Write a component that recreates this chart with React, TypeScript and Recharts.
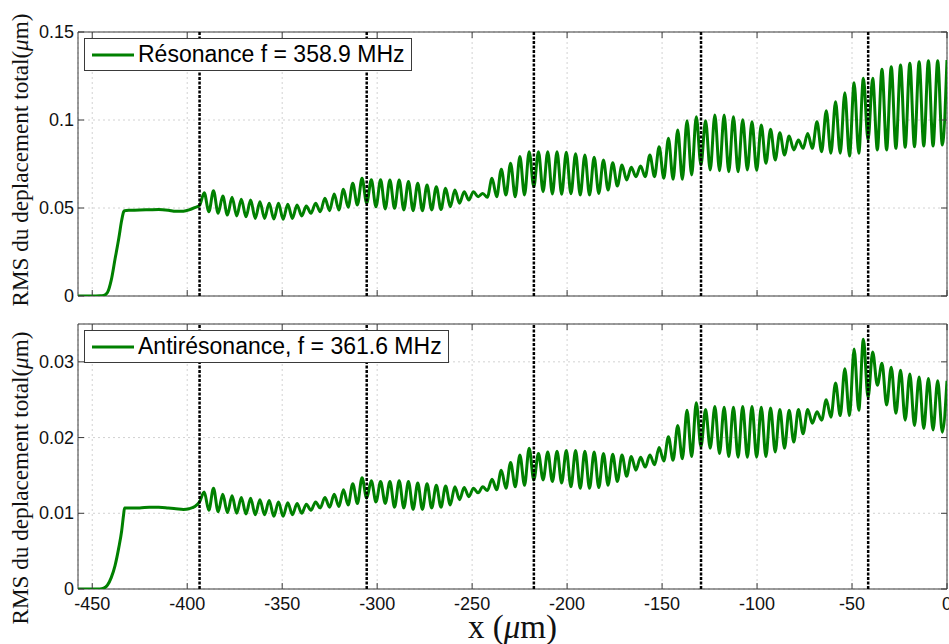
import React from "react";
import {
  LineChart,
  Line,
  XAxis,
  YAxis,
  CartesianGrid,
  ReferenceLine,
  ReferenceArea,
  Legend,
} from "recharts";

const GREEN = "#008000";
const AXIS = "#3a3a3a";
const SERIF = '"Liberation Serif", "Times New Roman", serif';
const SANS = '"Liberation Sans", Arial, Helvetica, sans-serif';

// start of the curve, before the first interface
const rampX = [
  -457.5, -450, -446, -444, -442, -440, -438, -436, -434.5, -433.5, -433, -430,
  -425, -420, -415, -410, -406, -402, -399, -396,
];
const rampTop = [
  0, 0, 0.0001, 0.0003, 0.002, 0.009, 0.021, 0.033, 0.043, 0.0478, 0.0485,
  0.0487, 0.0489, 0.049, 0.0491, 0.0487, 0.0481, 0.0482, 0.0489, 0.0502,
];
const rampBottom = [
  0, 0, 0, 0.0001, 0.0005, 0.0015, 0.0031, 0.0055, 0.0077, 0.0098, 0.0107,
  0.0107, 0.0107, 0.0108, 0.0108, 0.0107, 0.0106, 0.0105, 0.0106, 0.0109,
];

// oscillating part: one value per half period (peaks / troughs), from the first interface
const waveStartX = -393.5;
const waveHalfPeriod = 2.444;

const waveTop = [
  0.0515, 0.0587, 0.0479, 0.0598, 0.047, 0.0568, 0.046, 0.0561, 0.0455, 0.055,
  0.045, 0.0545, 0.0441, 0.0536, 0.0441, 0.0527, 0.0437, 0.0527, 0.0436, 0.0521,
  0.0441, 0.0517, 0.0455, 0.0511, 0.047, 0.0527, 0.0479, 0.0555, 0.0485, 0.058,
  0.0489, 0.0606, 0.0504, 0.064, 0.0517, 0.0669, 0.0527, 0.066, 0.0507, 0.066,
  0.0495, 0.0659, 0.0498, 0.0659, 0.0489, 0.065, 0.0485, 0.064, 0.0485, 0.063,
  0.0489, 0.0621, 0.0492, 0.0612, 0.0507, 0.0602, 0.0527, 0.0593, 0.0545, 0.0593,
  0.0564, 0.0583, 0.0561, 0.0669, 0.0564, 0.072, 0.0574, 0.0754, 0.0564, 0.0792,
  0.0574, 0.082, 0.0621, 0.082, 0.0593, 0.082, 0.058, 0.082, 0.0578, 0.0817,
  0.0581, 0.0808, 0.0574, 0.0801, 0.0574, 0.0788, 0.0583, 0.0773, 0.0602, 0.0757,
  0.0625, 0.0744, 0.0659, 0.0731, 0.0678, 0.0739, 0.0678, 0.0801, 0.0678, 0.0848,
  0.0669, 0.0896, 0.0663, 0.0943, 0.0663, 0.0996, 0.0688, 0.1019, 0.0744, 0.0996,
  0.0716, 0.1028, 0.0712, 0.1028, 0.0706, 0.1019, 0.0706, 0.1002, 0.0716, 0.099,
  0.0714, 0.0972, 0.0754, 0.0947, 0.0773, 0.0928, 0.0801, 0.0909, 0.083, 0.0886,
  0.0839, 0.0924, 0.0839, 0.099, 0.082, 0.1053, 0.0811, 0.1104, 0.0811, 0.1155,
  0.0795, 0.1212, 0.0811, 0.1237, 0.0886, 0.1237, 0.083, 0.1288, 0.083, 0.1303,
  0.0839, 0.1312, 0.0845, 0.1322, 0.0848, 0.1331, 0.0852, 0.1337, 0.0852, 0.1337,
  0.0858, 0.1341,
];

const waveBottom = [
  0.0115, 0.0128, 0.0104, 0.0133, 0.0102, 0.0125, 0.0101, 0.0123, 0.01, 0.0121,
  0.0099, 0.012, 0.0098, 0.0118, 0.0098, 0.0117, 0.0096, 0.0115, 0.0096, 0.0114,
  0.0098, 0.0113, 0.01, 0.0112, 0.0104, 0.0115, 0.0107, 0.0121, 0.0108, 0.0125,
  0.0109, 0.0131, 0.0111, 0.0139, 0.0113, 0.0147, 0.012, 0.0143, 0.0115, 0.0142,
  0.0113, 0.0142, 0.0108, 0.0143, 0.0107, 0.0142, 0.0105, 0.014, 0.0105, 0.0139,
  0.0107, 0.0137, 0.0108, 0.0136, 0.0111, 0.0135, 0.0118, 0.0134, 0.0122, 0.0133,
  0.0127, 0.0135, 0.013, 0.0145, 0.0131, 0.0157, 0.0133, 0.0167, 0.0135, 0.0177,
  0.0137, 0.0186, 0.0144, 0.0179, 0.0144, 0.0181, 0.0142, 0.0182, 0.014, 0.0183,
  0.0135, 0.0183, 0.0133, 0.0182, 0.0133, 0.0181, 0.0134, 0.0179, 0.0137, 0.0178,
  0.0142, 0.0177, 0.0149, 0.0175, 0.0157, 0.0174, 0.0161, 0.0177, 0.0164, 0.0187,
  0.0169, 0.0201, 0.017, 0.0216, 0.0172, 0.0236, 0.0175, 0.0246, 0.0188, 0.0237,
  0.0186, 0.0241, 0.0179, 0.024, 0.0175, 0.024, 0.0174, 0.0241, 0.0174, 0.0241,
  0.0174, 0.024, 0.0175, 0.0239, 0.0181, 0.0237, 0.0186, 0.0236, 0.0194, 0.0237,
  0.0205, 0.0237, 0.0219, 0.0234, 0.0223, 0.025, 0.0227, 0.0272, 0.0229, 0.0291,
  0.0229, 0.0317, 0.0236, 0.033, 0.0253, 0.0313, 0.0269, 0.0298, 0.0243, 0.0293,
  0.0232, 0.0289, 0.0223, 0.0284, 0.0216, 0.028, 0.0212, 0.0278, 0.021, 0.0275,
  0.0207, 0.0275,
];

const interfaces = [-393.5, -305.5, -217.5, -129.5, -41.5];
const xTicks = [-450, -400, -350, -300, -250, -200, -150, -100, -50, 0];
const topTicks = [0, 0.05, 0.1, 0.15];
const bottomTicks = [0, 0.01, 0.02, 0.03];
const X_MIN = -457.5;
const X_MAX = 0;

const buildSeries = (ramp: number[], wave: number[]) => [
  ...rampX.map((x, i) => ({ x, y: ramp[i] })),
  ...wave.map((y, k) => ({ x: +(waveStartX + k * waveHalfPeriod).toFixed(3), y })),
];

const topData = buildSeries(rampTop, waveTop);
const bottomData = buildSeries(rampBottom, waveBottom);

const PLOT_W = 869;

function XTick(props: any) {
  const { x, y, payload, plotHeight, showLabel } = props;
  return (
    <g>
      <line x1={x} x2={x} y1={y} y2={y - 6} stroke={AXIS} />
      <line x1={x} x2={x} y1={y - plotHeight} y2={y - plotHeight + 6} stroke={AXIS} />
      {showLabel && (
        <text x={x} y={y + 21} textAnchor="middle" fontFamily={SANS} fontSize={18} fill="#111">
          {payload.value}
        </text>
      )}
    </g>
  );
}

function YTick(props: any) {
  const { x, y, payload } = props;
  return (
    <g>
      <line x1={x} x2={x + 6} y1={y} y2={y} stroke={AXIS} />
      <line x1={x + PLOT_W - 6} x2={x + PLOT_W} y1={y} y2={y} stroke={AXIS} />
      <text x={x - 4} y={y + 6} textAnchor="end" fontFamily={SANS} fontSize={18} fill="#111">
        {payload.value}
      </text>
    </g>
  );
}

function YTitle(props: any) {
  const { x, y, height } = props.viewBox;
  const cx = x + 10;
  const cy = y + height / 2 + (props.shift || 0);
  return (
    <text
      transform={`translate(${cx},${cy}) rotate(-90)`}
      textAnchor="middle"
      fontFamily={SERIF}
      fontSize={23.2}
      fill="#111"
    >
      RMS du deplacement total(<tspan fontStyle="italic">μ</tspan>m)
    </text>
  );
}

function XTitle(props: any) {
  const { x, y, width } = props.viewBox;
  return (
    <text x={x + width / 2} y={y + 49} textAnchor="middle" fontFamily={SERIF} fontSize={33} fill="#111">
      x (<tspan fontStyle="italic">μ</tspan>m)
    </text>
  );
}

function LegendBox({ label }: { label: string }) {
  return (
    <div
      style={{
        display: "inline-flex",
        alignItems: "center",
        height: 31,
        background: "#fff",
        border: `1px solid ${AXIS}`,
        padding: "0 6px 0 7px",
        fontFamily: SANS,
        fontSize: 23,
        color: "#000",
        whiteSpace: "nowrap",
      }}
    >
      <svg width={42} height={6} style={{ marginRight: 4 }}>
        <line x1={0} x2={42} y1={3} y2={3} stroke={GREEN} strokeWidth={3} />
      </svg>
      {label}
    </div>
  );
}

function Panel({
  data,
  yMax,
  yTicks,
  legend,
  height,
  top,
  xAxisHeight,
  showXLabels,
  titleShift,
}: {
  data: { x: number; y: number }[];
  yMax: number;
  yTicks: number[];
  legend: string;
  height: number;
  top: number;
  xAxisHeight: number;
  showXLabels: boolean;
  titleShift: number;
}) {
  const plotHeight = height - top - xAxisHeight;
  return (
    <LineChart
      width={949}
      height={height}
      data={data}
      margin={{ top, right: 2, bottom: 0, left: 18 }}
      style={{ overflow: "visible" }}
    >
      <CartesianGrid stroke="#d2d2d2" strokeDasharray="2 3" />
      <XAxis
        dataKey="x"
        type="number"
        domain={[X_MIN, X_MAX]}
        ticks={xTicks}
        interval={0}
        allowDataOverflow
        axisLine={false}
        tickLine={false}
        tickSize={0}
        tickMargin={0}
        height={xAxisHeight}
        tick={<XTick plotHeight={plotHeight} showLabel={showXLabels} />}
        label={showXLabels ? <XTitle /> : undefined}
      />
      <YAxis
        type="number"
        domain={[0, yMax]}
        ticks={yTicks}
        interval={0}
        allowDataOverflow
        axisLine={false}
        tickLine={false}
        tickSize={0}
        tickMargin={0}
        width={60}
        tick={<YTick />}
        label={<YTitle shift={titleShift} />}
      />
      <Legend
        layout="horizontal"
        verticalAlign="middle"
        align="center"
        wrapperStyle={{ left: 84, top: top + 6, width: "auto" }}
        content={() => <LegendBox label={legend} />}
      />
      <Line
        type="monotone"
        dataKey="y"
        stroke={GREEN}
        strokeWidth={3}
        dot={false}
        activeDot={false}
        isAnimationActive={false}
      />
      {interfaces.map((x) => (
        <ReferenceLine key={x} x={x} stroke="#000" strokeWidth={2.5} strokeDasharray="3 1.5" />
      ))}
      <ReferenceArea
        x1={X_MIN}
        x2={X_MAX}
        y1={0}
        y2={yMax}
        fill="none"
        fillOpacity={0}
        stroke={AXIS}
        strokeWidth={1}
      />
    </LineChart>
  );
}

export default function App() {
  return (
    <div
      style={{
        position: "absolute",
        left: 0,
        top: 0,
        width: 949,
        height: 644,
        background: "#fff",
        overflow: "hidden",
      }}
    >
      <div style={{ position: "absolute", left: 0, top: 0 }}>
        <Panel
          data={topData}
          yMax={0.15}
          yTicks={topTicks}
          legend="Résonance f = 358.9 MHz"
          height={320}
          top={32}
          xAxisHeight={24}
          showXLabels={false}
          titleShift={-4}
        />
      </div>
      <div style={{ position: "absolute", left: 0, top: 300 }}>
        <Panel
          data={bottomData}
          yMax={0.035}
          yTicks={bottomTicks}
          legend="Antirésonance, f = 361.6 MHz"
          height={344}
          top={24}
          xAxisHeight={55}
          showXLabels={true}
          titleShift={21.5}
        />
      </div>
    </div>
  );
}
